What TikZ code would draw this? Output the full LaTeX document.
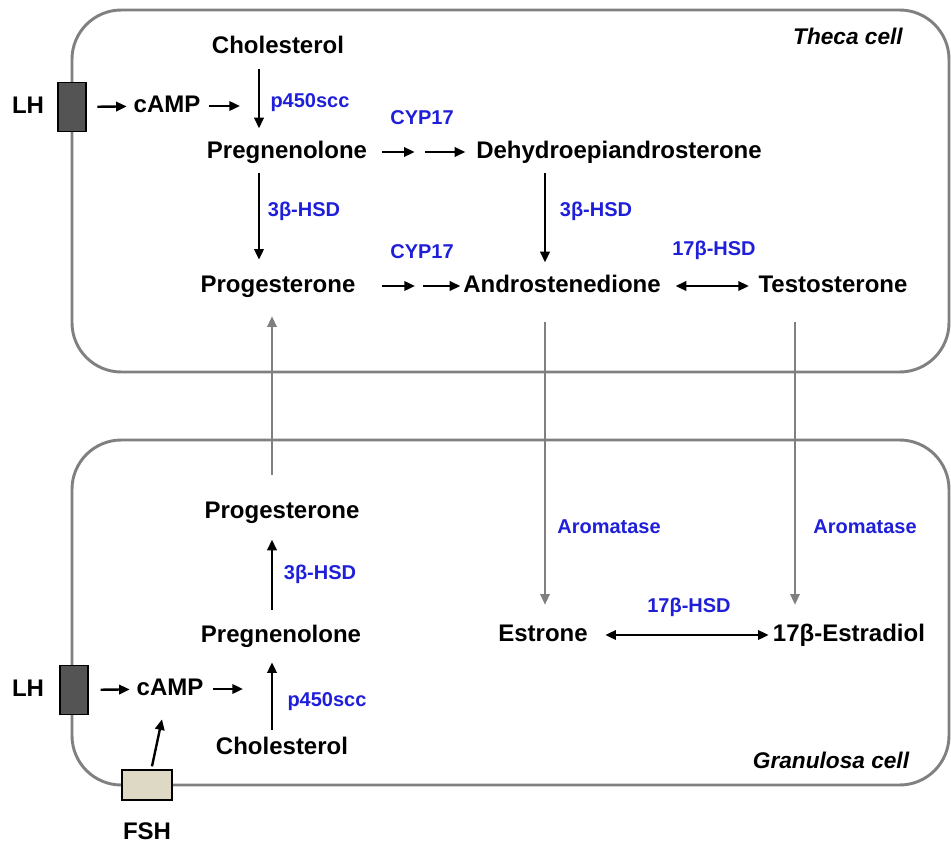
\documentclass[tikz,border=0pt]{standalone}
\usepackage{fontspec}
\setmainfont{Liberation Sans}
\usetikzlibrary{arrows.meta,positioning,calc}
\definecolor{enzblue}{rgb}{0.12,0.12,0.85}
\definecolor{membrane}{gray}{0.5}
\definecolor{lhrec}{gray}{0.33}
\definecolor{fshrec}{rgb}{0.87,0.85,0.77}
\tikzset{
  steroid/.style={font=\fontsize{18}{20}\selectfont\bfseries, inner sep=2pt, text height=13pt, text depth=4pt},
  enzyme/.style={font=\fontsize{15}{17}\selectfont\bfseries, text=enzblue, inner sep=1pt},
  cellname/.style={font=\fontsize{17}{19}\selectfont\bfseries\itshape},
  cell/.style={draw=membrane, line width=2.2pt, rounded corners=37pt},
  receptor/.style={rectangle, draw=black, line width=1pt, inner sep=0pt},
  line/.style={draw, line width=1.8pt, -{Triangle[length=8pt,width=7pt]}},
  twoway/.style={draw, line width=1.8pt, {Triangle[length=8pt,width=7pt]}-{Triangle[length=8pt,width=7pt]}},
  transfer/.style={draw=membrane, line width=1.5pt, -{Triangle[length=8pt,width=7pt]}}
}

\begin{document}
\begin{tikzpicture}[x=0.75pt,y=-0.75pt]
    \useasboundingbox (0,0) rectangle (951,850);

    % cells
    \draw[cell] (72,10) rectangle (949,372);
    \draw[cell] (72,440) rectangle (949,785);
    \node[cellname] (theca) at (848,36) {Theca cell};
    \node[cellname] (granulosa) at (831,760) {Granulosa cell};

    % guide columns
    \coordinate (colA) at (259,0);
    \coordinate (colB) at (545,0);
    \coordinate (colC) at (272,0);
    \coordinate (colD) at (795,0);

    % theca cell
    \node[receptor, fill=lhrec, minimum width=21pt, minimum height=37pt] (lhrec1) at (72,107) {};
    \node[steroid] (lh1) at (28,107) {LH};
    \node[steroid] (camp1) at (167,106) {cAMP};
    \coordinate (camp1end) at (240,106);
    \node[steroid] (chol1) at (278,47) {Cholesterol};
    \node[steroid] (preg1) at (287,152) {Pregnenolone};
    \node[steroid] (dhea) at (619,152) {Dehydroepiandrosterone};
    \node[steroid] (prog1) at (278,286) {Progesterone};
    \node[steroid] (andro) at (562,286) {Androstenedione};
    \node[steroid] (testo) at (833,286) {Testosterone};
    \coordinate (mid1) at (420,152);
    \coordinate (mid2) at (419,286);

    \node[enzyme] (scc1) at (310,103) {p450scc};
    \node[enzyme] (cyp1) at (422,118) {CYP17};
    \node[enzyme] (hsd1) at (304,211) {3β-HSD};
    \node[enzyme] (hsd2) at (596,211) {3β-HSD};
    \node[enzyme] (cyp2) at (422,252) {CYP17};
    \node[enzyme] (hsd3) at (714,250) {17β-HSD};

    % granulosa cell
    \node[receptor, fill=lhrec, minimum width=21pt, minimum height=37pt] (lhrec2) at (74,690) {};
    \node[steroid] (lh2) at (28,690) {LH};
    \node[receptor, fill=fshrec, minimum width=37.5pt, minimum height=22.5pt] (fshrec) at (147,785) {};
    \node[steroid] (fsh) at (147,833) {FSH};
    \node[steroid] (camp2) at (170,689) {cAMP};
    \coordinate (camp2end) at (243,689);
    \node[steroid] (chol2) at (282,748) {Cholesterol};
    \node[steroid] (preg2) at (281,636) {Pregnenolone};
    \node[steroid] (prog2) at (282,512) {Progesterone};
    \node[steroid] (estrone) at (543,635) {Estrone};
    \node[steroid] (estradiol) at (849,635) {17β-Estradiol};

    \node[enzyme] (scc2) at (327,702) {p450scc};
    \node[enzyme] (hsd4) at (320,574) {3β-HSD};
    \node[enzyme] (arom1) at (609,527) {Aromatase};
    \node[enzyme] (arom2) at (865,527) {Aromatase};
    \node[enzyme] (hsd5) at (689,607) {17β-HSD};

    % theca pathway
    \path[line, shorten <=8pt, shorten >=3pt] (lhrec1) -- (camp1);
    \path[line, shorten <=4pt] (camp1) -- (camp1end);
    \path[line, shorten <=6pt, shorten >=7pt] (chol1.south -| colA) -- (preg1.north -| colA);
    \path[line, shorten <=9pt, shorten >=4pt] (preg1) -- (mid1);
    \path[line, shorten <=4pt, shorten >=6pt] (mid1) -- (dhea);
    \path[line, shorten <=5pt, shorten >=9pt] (preg1.south -| colA) -- (prog1.north -| colA);
    \path[line, shorten <=5pt, shorten >=7pt] (dhea.south -| colB) -- (andro.north -| colB);
    \path[line, shorten <=18pt, shorten >=3pt] (prog1) -- (mid2);
    \path[line, shorten <=3pt, shorten >=0pt] (mid2) -- (andro);
    \path[twoway, shorten <=9pt, shorten >=5pt] (andro) -- (testo);

    % transport between cells
    \path[transfer, shorten <=17pt, shorten >=12pt] (prog2.north -| colC) -- (prog1.south -| colC);
    \path[transfer, shorten <=16pt, shorten >=12pt] (andro.south -| colB) -- (estrone.north -| colB);
    \path[transfer, shorten <=16pt, shorten >=12pt] (testo.south -| colD) -- (estradiol.north -| colD);

    % granulosa pathway
    \path[line, shorten <=9pt, shorten >=3pt] (lhrec2) -- (camp2);
    \path[line, shorten <=5pt] (camp2) -- (camp2end);
    \path[line] ($(fshrec.north)+(5,-3)$) -- ($(camp2.south)+(-8,16)$);
    \path[line, shorten <=3pt, shorten >=9pt] (chol2.north -| colC) -- (preg2.south -| colC);
    \path[line, shorten <=9pt, shorten >=10pt] (preg2.north -| colC) -- (prog2.south -| colC);
    \path[twoway, shorten <=11pt, shorten >=1pt] (estrone) -- (estradiol);
\end{tikzpicture}
\end{document}
